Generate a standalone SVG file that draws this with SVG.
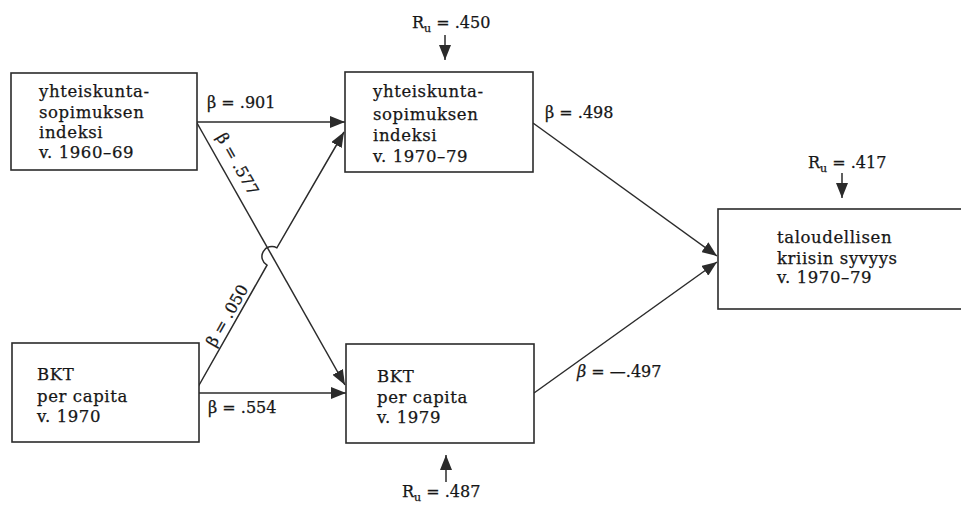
<svg xmlns="http://www.w3.org/2000/svg" width="961" height="505" viewBox="0 0 961 505">
<defs>
<style>
.box{fill:#fff;stroke:#2b2b2b;stroke-width:1.6}
.t{font-family:"DejaVu Serif","Liberation Serif",serif;font-size:16.5px;fill:#161616;stroke:#161616;stroke-width:0.25;letter-spacing:0.6px}
.l{font-size:16px;letter-spacing:0}
.c{fill:none;stroke:#2b2b2b;stroke-width:1.5}
.sub{font-size:11px}
</style>
<marker id="ah" viewBox="0 0 15 12" refX="15" refY="6" markerWidth="15" markerHeight="12" markerUnits="userSpaceOnUse" orient="auto">
<path d="M0,0 L15,6 L0,12 z" fill="#2b2b2b"/>
</marker>
</defs>
<rect width="961" height="505" fill="#fff"/>

<g id="connectors">
<line class="c" x1="197" y1="122" x2="345" y2="122" marker-end="url(#ah)"/>
<line class="c" x1="197" y1="123" x2="345" y2="385" marker-end="url(#ah)"/>
<path class="c" d="M198,387 L267.0,265.2 A10,10 0 0 1 276.9,247.8 L344,132" marker-end="url(#ah)"/>
<line class="c" x1="199" y1="393" x2="346" y2="393" marker-end="url(#ah)"/>
<line class="c" x1="533" y1="123" x2="717" y2="256" marker-end="url(#ah)"/>
<line class="c" x1="534" y1="393" x2="717" y2="262" marker-end="url(#ah)"/>
<line class="c" x1="445" y1="35" x2="445" y2="60" marker-end="url(#ah)"/>
<line class="c" x1="842" y1="173" x2="842" y2="198" marker-end="url(#ah)"/>
<line class="c" x1="446" y1="482" x2="446" y2="455" marker-end="url(#ah)"/>
</g>

<g id="labels">
<text class="t l" x="207" y="108">β = .901</text>
<text class="t l" x="545" y="118">β = .498</text>
<text class="t l" x="208" y="413">β = .554</text>
<text class="t l" x="577" y="377"><tspan font-style="italic">β</tspan> = —.497</text>
<text class="t l" transform="translate(216,137) rotate(60.5)">β = .577</text>
<text class="t l" transform="translate(215,348) rotate(-60.3)">β = .050</text>
<text class="t l" x="412" y="28">R<tspan class="sub" dy="4">u</tspan><tspan dy="-4"> = .450</tspan></text>
<text class="t l" x="808" y="168">R<tspan class="sub" dy="4">u</tspan><tspan dy="-4"> = .417</tspan></text>
<text class="t l" x="402" y="497">R<tspan class="sub" dy="4">u</tspan><tspan dy="-4"> = .487</tspan></text>
</g>

<g id="node-yhteis-1960">
<rect class="box" x="11" y="73" width="186" height="97"/>
<text class="t" x="39" y="97">yhteiskunta-</text>
<text class="t" x="39" y="118">sopimuksen</text>
<text class="t" x="39" y="138">indeksi</text>
<text class="t" x="39" y="158">v. 1960–69</text>
</g>

<g id="node-yhteis-1970">
<rect class="box" x="345" y="72" width="188" height="100"/>
<text class="t" x="373" y="97">yhteiskunta-</text>
<text class="t" x="373" y="120">sopimuksen</text>
<text class="t" x="373" y="141">indeksi</text>
<text class="t" x="373" y="162">v. 1970–79</text>
</g>

<g id="node-bkt-1970">
<rect class="box" x="12" y="343" width="187" height="99"/>
<text class="t" x="37" y="380">BKT</text>
<text class="t" x="37" y="402">per capita</text>
<text class="t" x="37" y="422">v. 1970</text>
</g>

<g id="node-bkt-1979">
<rect class="box" x="346" y="344" width="188" height="99"/>
<text class="t" x="377" y="382">BKT</text>
<text class="t" x="377" y="403">per capita</text>
<text class="t" x="377" y="423">v. 1979</text>
</g>

<g id="node-kriisi">
<rect class="box" x="718" y="209" width="260" height="100"/>
<text class="t" x="777" y="243">taloudellisen</text>
<text class="t" x="777" y="264">kriisin syvyys</text>
<text class="t" x="777" y="283">v. 1970–79</text>
</g>
</svg>
